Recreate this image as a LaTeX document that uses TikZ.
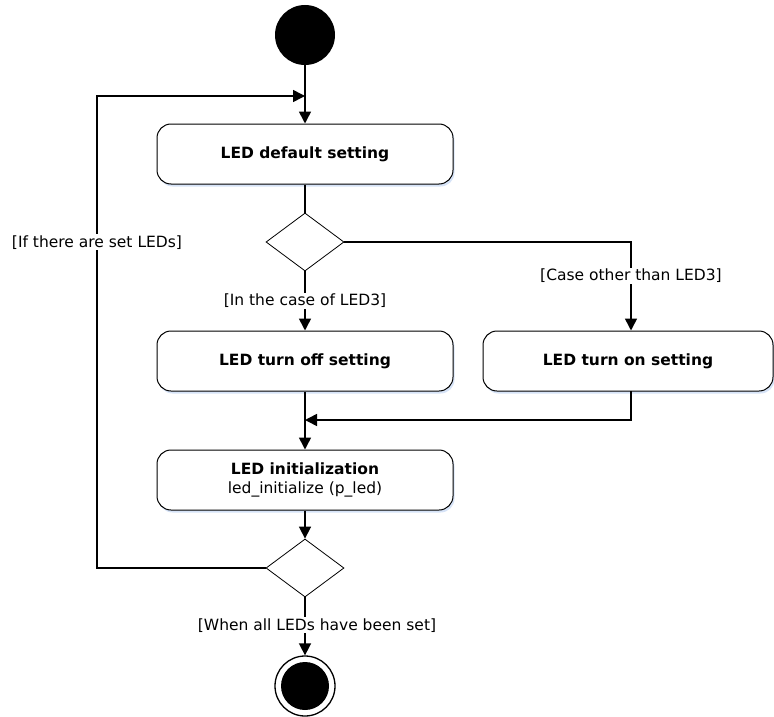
\documentclass[tikz,border=0pt]{standalone}
\usepackage{fontspec}
\setmainfont{DejaVu Sans}
\usetikzlibrary{arrows.meta,shapes.geometric,shadows}
\definecolor{shadowblue}{rgb}{0.84,0.89,0.97}
\begin{document}
\begin{tikzpicture}[x=1pt,y=-1pt,
  act/.style={draw,line width=1pt,rounded corners=14pt,minimum width=296pt,minimum height=60pt,align=center,font=\fontsize{15.5}{19}\selectfont\bfseries,fill=white,drop shadow={shadow xshift=1.5pt,shadow yshift=-2.5pt,fill=shadowblue,opacity=1}},
  dec/.style={draw,line width=0.8pt,diamond,aspect=1.34,minimum width=78pt,minimum height=58pt,inner sep=0pt,fill=white},
  flow/.style={line width=1.6pt,-{Triangle[length=12pt,width=12pt]}},
  plain/.style={line width=1.6pt},
  lbl/.style={font=\fontsize{15.5}{19}\selectfont,fill=white,inner sep=1pt}]
\useasboundingbox (0,0) rectangle (774,717);
\node[circle,fill=black,minimum size=60pt,inner sep=0pt] (start) at (305,35) {};
\node[act] (b1) at (305,154) {LED default setting};
\node[dec] (d1) at (305,242) {};
\node[act] (b2) at (305,361) {LED turn off setting};
\node[act,minimum width=290pt] (b3) at (628,361) {LED turn on setting};
\node[act] (b4) at (305,480) {LED initialization\\{\mdseries led\_initialize (p\_led)}};
\node[dec] (d2) at (305,568) {};
\node[circle,draw,line width=1.3pt,minimum size=60pt,inner sep=0pt] (end) at (305,686) {};
\node[circle,fill=black,minimum size=48pt,inner sep=0pt] at (end) {};
\coordinate (cl) at (97,568);
\coordinate (tl) at (97,96);
\coordinate (m96) at (305,96);
\coordinate (m420) at (305,420);
\coordinate (r242) at (631,242);
\coordinate (r391) at (631,391);
\coordinate (r420) at (631,420);
\draw[flow] (start) -- (b1);
\draw[plain] (b1) -- (d1);
\draw[flow] (d1.south) -- node[lbl,pos=0.5]{[In the case of LED3]} (b2);
\draw[flow] (d1.east) -- (r242) -- node[lbl,pos=0.38]{[Case other than LED3]} (b3.north -| r242);
\draw[flow] (b4) -- (d2);
\draw[flow] (r391) -- (r420) -- (m420);
\draw[flow] (d2.west) -- (cl) -- node[lbl,pos=0.69]{[If there are set LEDs]} (tl) -- (m96);
\draw[flow] (b2.south) -- (b4.north);
\draw[flow] (d2.south) -- node[lbl,pos=0.48,xshift=12pt]{[When all LEDs have been set]} (end);
\end{tikzpicture}
\end{document}
